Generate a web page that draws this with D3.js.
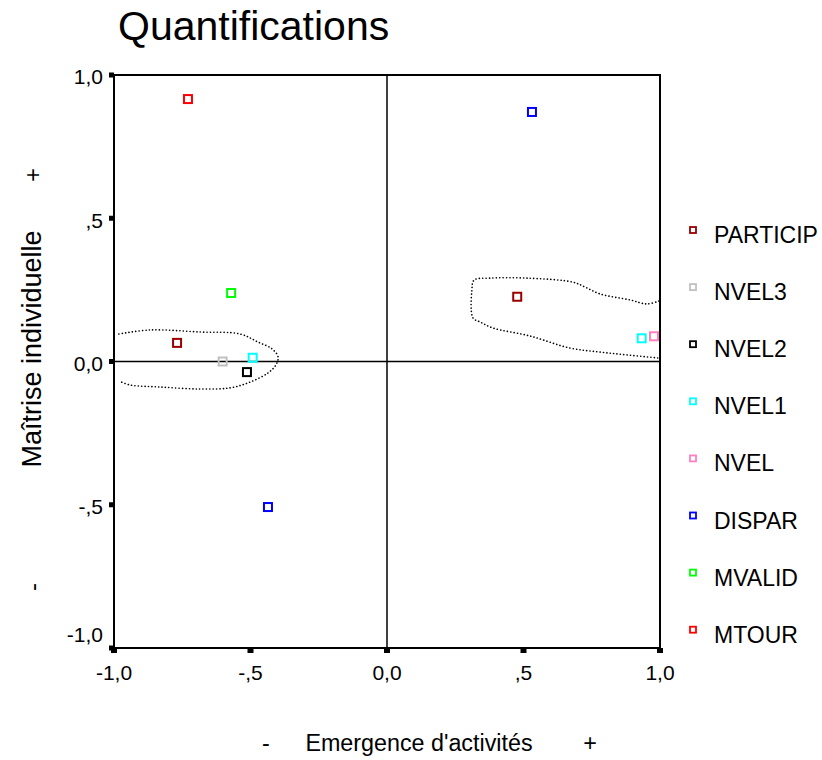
<!DOCTYPE html>
<html>
<head>
<meta charset="utf-8">
<script src="https://cdn.jsdelivr.net/npm/d3@7"></script>
<style>
  body { margin: 0; background: #fff; }
  text { font-family: "Liberation Sans", Arial, sans-serif; fill: #000; }
</style>
</head>
<body>
<svg id="chart"></svg>
<script>
// legend categories and their colours
const categories = ["PARTICIP", "NVEL3", "NVEL2", "NVEL1", "NVEL", "DISPAR", "MVALID", "MTOUR"]
const colors = ["#990000", "#c0c0c0", "#000000", "#00ffff", "#ff80c0", "#0000ff", "#00ff00", "#ff0000"]

// quantification points (category, dim1, dim2)
const pointCat = ["MTOUR", "DISPAR", "DISPAR", "MVALID", "PARTICIP", "PARTICIP", "NVEL3", "NVEL1", "NVEL1", "NVEL2", "NVEL"]
const pointX = [-0.729, 0.531, -0.436, -0.571, -0.769, 0.477, -0.602, -0.492, 0.933, -0.513, 0.978]
const pointY = [0.916, 0.871, -0.508, 0.239, 0.065, 0.226, 0.000, 0.013, 0.081, -0.037, 0.088]

// dotted group outlines
const leftGroupX = [-0.982, -0.868, -0.685, -0.538, -0.473, -0.421, -0.399, -0.407, -0.436, -0.502, -0.575, -0.685, -0.832, -0.941, -0.982]
const leftGroupY = [0.096, 0.110, 0.103, 0.096, 0.068, 0.044, 0.016, -0.012, -0.040, -0.072, -0.092, -0.096, -0.089, -0.082, -0.068]
const rightGroupX = [0.996, 0.952, 0.890, 0.780, 0.725, 0.681, 0.513, 0.377, 0.319, 0.311, 0.315, 0.341, 0.388, 0.524, 0.670, 0.780, 0.879, 0.996]
const rightGroupY = [0.211, 0.201, 0.215, 0.236, 0.260, 0.277, 0.291, 0.291, 0.284, 0.250, 0.152, 0.138, 0.117, 0.089, 0.047, 0.033, 0.023, 0.012]

const tickValues = [-1, -0.5, 0, 0.5, 1]
const tickLabels = ["-1,0", "-,5", "0,0", ",5", "1,0"]

const width = 822, height = 760
const svg = d3.select("#chart").attr("width", width).attr("height", height)

const x = d3.scaleLinear().domain([-1, 1]).range([114, 660])
const y = d3.scaleLinear().domain([-1, 1]).range([648, 75])
const color = d3.scaleOrdinal().domain(categories).range(colors)

// title
svg.append("text")
  .attr("x", 118).attr("y", 40)
  .attr("font-size", 41)
  .text("Quantifications")

// zero lines
svg.append("line")
  .attr("x1", x(0)).attr("x2", x(0)).attr("y1", y(1)).attr("y2", y(-1))
  .attr("stroke", "#000").attr("stroke-width", 1.5)
svg.append("line")
  .attr("x1", x(-1)).attr("x2", x(1)).attr("y1", y(0)).attr("y2", y(0))
  .attr("stroke", "#000").attr("stroke-width", 1.5)

// frame
svg.append("rect")
  .attr("x", x(-1)).attr("y", y(1))
  .attr("width", x(1) - x(-1)).attr("height", y(-1) - y(1))
  .attr("fill", "none").attr("stroke", "#000").attr("stroke-width", 2)

// ticks: small squares outside the frame
svg.selectAll(".ytick").data(tickValues).enter().append("rect")
  .attr("class", "ytick")
  .attr("x", x(-1) - 5).attr("y", d => y(d) - 2.5)
  .attr("width", 5).attr("height", 5).attr("fill", "#000")
svg.selectAll(".xtick").data(tickValues).enter().append("rect")
  .attr("class", "xtick")
  .attr("x", d => x(d) - 3).attr("y", y(-1))
  .attr("width", 6).attr("height", 5).attr("fill", "#000")

svg.selectAll(".ylab").data(tickValues).enter().append("text")
  .attr("class", "ylab")
  .attr("x", 103)
  .attr("y", d => d === -1 ? y(d) - 13 : y(d) + 2)
  .attr("dy", "0.35em")
  .attr("text-anchor", "end")
  .attr("font-size", 21)
  .text((d, i) => tickLabels[i])
svg.selectAll(".xlab").data(tickValues).enter().append("text")
  .attr("class", "xlab")
  .attr("x", d => x(d))
  .attr("y", 680)
  .attr("text-anchor", "middle")
  .attr("font-size", 21)
  .text((d, i) => tickLabels[i])

// axis titles
svg.append("text")
  .attr("x", 419).attr("y", 751)
  .attr("text-anchor", "middle").attr("font-size", 23.3)
  .text("Emergence d'activités")
svg.append("text").attr("x", 266).attr("y", 751)
  .attr("text-anchor", "middle").attr("font-size", 23.3).text("-")
svg.append("text").attr("x", 590).attr("y", 751)
  .attr("text-anchor", "middle").attr("font-size", 23.3).text("+")

const yTitle = svg.append("g").attr("transform", "translate(41,0) rotate(-90)")
yTitle.append("text").attr("x", -349).attr("y", 0)
  .attr("text-anchor", "middle").attr("font-size", 27)
  .text("Maîtrise individuelle")
yTitle.append("text").attr("x", -175).attr("y", 0)
  .attr("text-anchor", "middle").attr("font-size", 24).text("+")
yTitle.append("text").attr("x", -587).attr("y", 0)
  .attr("text-anchor", "middle").attr("font-size", 24).text("-")

// dotted outlines
const outline = d3.line().x(d => x(d[0])).y(d => y(d[1])).curve(d3.curveCatmullRom)
;[[leftGroupX, leftGroupY], [rightGroupX, rightGroupY]].forEach(([gx, gy]) => {
  svg.append("path")
    .attr("d", outline(gx.map((v, i) => [v, gy[i]])))
    .attr("fill", "none")
    .attr("stroke", "#000")
    .attr("stroke-width", 1.6)
    .attr("stroke-linecap", "round")
    .attr("stroke-dasharray", "0.1,3.3")
})

// points
svg.selectAll(".pt").data(pointCat).enter().append("rect")
  .attr("class", "pt")
  .attr("x", (d, i) => x(pointX[i]) - 4)
  .attr("y", (d, i) => y(pointY[i]) - 4)
  .attr("width", 8).attr("height", 8)
  .attr("fill", "none")
  .attr("stroke", d => color(d))
  .attr("stroke-width", 2)

// legend
const legend = svg.selectAll(".leg").data(categories).enter().append("g")
  .attr("class", "leg")
  .attr("transform", (d, i) => `translate(693, ${230 + i * 57.1})`)
legend.append("rect")
  .attr("x", -3).attr("y", -3).attr("width", 6).attr("height", 6)
  .attr("fill", "none").attr("stroke", d => color(d)).attr("stroke-width", 1.8)
legend.append("text")
  .attr("x", 21).attr("y", 13)
  .attr("font-size", 23)
  .text(d => d)
</script>
</body>
</html>
